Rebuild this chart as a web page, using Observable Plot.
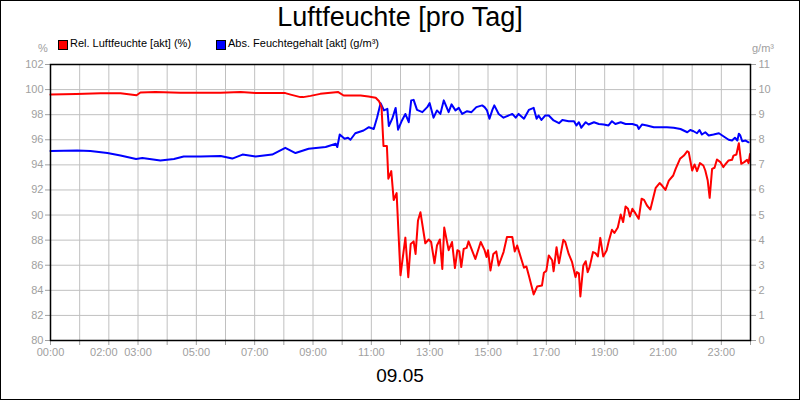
<!DOCTYPE html>
<html><head><meta charset="utf-8">
<script src="https://cdn.jsdelivr.net/npm/d3@7"></script>
<script src="https://cdn.jsdelivr.net/npm/@observablehq/plot@0.6"></script>
<style>
body{margin:0;background:#fff}
#wrap{position:relative;width:800px;height:400px;overflow:hidden;font-family:"Liberation Sans",Arial,sans-serif;background:#fff}
#wrap .abs{position:absolute;white-space:nowrap}
#border{position:absolute;left:0;top:0;width:798px;height:398px;border:1px solid #000;pointer-events:none}
.sq{position:absolute;width:8px;height:8px;border:1px solid #000}
</style></head>
<body>
<div id="wrap">
  <div id="chart" style="position:absolute;left:0;top:0"></div>
  <div class="abs" id="title" style="left:0;width:800px;text-align:center;top:2px;font-size:27px;color:#000">Luftfeuchte [pro Tag]</div>
  <div class="sq" style="left:58px;top:40px;background:#ff0000"></div>
  <div class="abs" style="left:70px;top:37px;font-size:11px;color:#000">Rel. Luftfeuchte [akt] (%)</div>
  <div class="sq" style="left:216px;top:40px;background:#0000ff"></div>
  <div class="abs" style="left:228px;top:37px;font-size:11px;color:#000">Abs. Feuchtegehalt [akt] (g/m³)</div>
  <div class="abs" style="left:38px;top:42px;font-size:11px;color:#a0a0a0">%</div>
  <div class="abs" style="left:752px;top:42px;font-size:11px;color:#a0a0a0">g/m³</div>
  <div class="abs" id="date" style="left:0;width:800px;text-align:center;top:365px;font-size:19px;color:#000">09.05</div>
  <div id="border"></div>
</div>
<script>
// Relative humidity (%) : [minutes since 00:00, value]
const relHumidity = [[0,99.6],[53,99.65],[103,99.7],[144,99.7],[177,99.55],[185,99.77],[216,99.8],[267,99.75],[350,99.75],[391,99.8],[422,99.72],[483,99.72],[494,99.6],[514,99.4],[520,99.4],[535,99.5],[555,99.66],[592,99.8],[603,99.53],[638,99.53],[654,99.45],[669,99.35],[676,99.07],[681,98.6],[685,95.5],[692,95.5],[695,92.9],[701,93.5],[706,91.2],[712,91.75],[720,85.2],[730,88.2],[736,85.05],[741,87.7],[747,87.9],[751,86.9],[756,89.57],[761,90.23],[771,87.75],[778,88.05],[783,87.85],[790,86.16],[795,87.57],[801,88.05],[806,85.7],[810,89.0],[819,87.2],[826,87.85],[832,85.77],[837,87.2],[841,87.1],[845,85.85],[850,87.3],[856,87.38],[860,87.9],[874,86.5],[885,87.85],[893,87.2],[897,86.65],[900,87.2],[905,85.58],[911,86.9],[917,87.1],[922,85.98],[932,87.05],[939,88.25],[950,88.25],[955,87.1],[960,87.57],[974,85.8],[979,85.9],[984,85.18],[994,83.67],[1001,84.3],[1011,84.38],[1015,85.4],[1020,85.55],[1025,86.78],[1032,86.4],[1035,85.52],[1041,87.44],[1046,86.16],[1055,88.02],[1059,87.85],[1066,86.9],[1073,86.24],[1080,85.05],[1083,85.45],[1087,85.36],[1090,83.51],[1096,85.98],[1101,86.32],[1105,85.45],[1109,85.85],[1116,87.05],[1121,86.97],[1126,86.7],[1131,88.18],[1137,86.7],[1144,87.17],[1148,87.85],[1155,88.83],[1160,88.57],[1167,89.0],[1173,90.04],[1178,89.44],[1183,90.68],[1188,90.5],[1192,89.88],[1197,90.5],[1203,90.15],[1210,89.7],[1216,91.3],[1221,91.21],[1227,90.76],[1234,90.44],[1245,92.17],[1253,92.55],[1258,92.35],[1265,92.0],[1272,92.75],[1281,93.15],[1286,93.68],[1295,94.48],[1303,94.74],[1310,95.09],[1313,95.0],[1320,93.55],[1325,94.03],[1330,93.5],[1336,94.14],[1343,93.95],[1347,93.55],[1352,92.75],[1356,91.37],[1361,93.68],[1366,93.77],[1371,94.43],[1378,94.22],[1384,93.82],[1388,94.03],[1395,94.35],[1402,94.4],[1405,94.74],[1411,94.83],[1416,95.73],[1421,94.08],[1427,94.22],[1433,94.4],[1436,94.14],[1439,94.87]];

// Absolute humidity (g/m³) : [minutes since 00:00, value]
const absHumidity = [[0,7.55],[55,7.57],[82,7.55],[117,7.47],[144,7.37],[176,7.23],[189,7.27],[226,7.17],[254,7.23],[274,7.33],[309,7.33],[350,7.35],[374,7.25],[395,7.41],[422,7.33],[456,7.41],[483,7.68],[504,7.47],[531,7.64],[566,7.71],[587,7.84],[590,7.71],[595,8.21],[605,8.04],[612,8.08],[617,8.0],[627,8.26],[644,8.37],[655,8.50],[665,8.43],[672,8.90],[679,9.46],[686,9.17],[693,9.23],[696,8.55],[703,8.84],[710,9.27],[715,8.40],[723,8.77],[730,9.03],[737,8.70],[742,9.57],[747,9.59],[754,9.19],[765,9.10],[775,9.30],[780,9.46],[788,8.88],[795,9.17],[802,9.03],[809,9.57],[819,9.10],[825,9.41],[833,9.17],[840,9.27],[847,9.03],[857,9.14],[866,9.10],[876,9.30],[888,9.37],[893,9.30],[898,9.17],[903,8.84],[909,9.19],[913,9.37],[922,9.03],[932,8.88],[950,9.03],[957,8.88],[963,9.03],[974,8.84],[984,9.19],[994,9.27],[1000,8.84],[1004,8.97],[1010,8.79],[1018,8.97],[1025,8.97],[1035,8.77],[1046,8.66],[1053,8.79],[1066,8.74],[1077,8.74],[1082,8.57],[1087,8.70],[1092,8.48],[1101,8.70],[1107,8.61],[1118,8.70],[1128,8.63],[1138,8.61],[1148,8.57],[1155,8.74],[1162,8.63],[1173,8.70],[1183,8.63],[1197,8.63],[1207,8.57],[1210,8.43],[1217,8.61],[1227,8.57],[1241,8.50],[1268,8.50],[1282,8.48],[1296,8.43],[1310,8.30],[1316,8.39],[1323,8.34],[1330,8.26],[1335,8.39],[1340,8.21],[1347,8.30],[1354,8.17],[1364,8.21],[1375,8.26],[1385,8.13],[1395,8.00],[1402,7.97],[1408,8.08],[1413,7.97],[1416,8.24],[1419,8.17],[1423,7.94],[1430,7.97],[1436,7.90]];

const xTickLabels = ["00:00","02:00","03:00","05:00","07:00","09:00","11:00","13:00","15:00","17:00","19:00","21:00","23:00"];
const leftTicks = [80,82,84,86,88,90,92,94,96,98,100,102];
const rightTickLabels = [0,1,2,3,4,5,6,7,8,9,10,11];
const hourTicks = d3.range(0, 25).map(h => h * 60);

const toMin = s => +s.slice(0,2) * 60 + +s.slice(3,5);
const labelMins = xTickLabels.filter(s => s !== "02:00").map(toMin);
const shiftedMins = xTickLabels.filter(s => s === "02:00").map(toMin);
const fmtTime = m => String(Math.floor(m/60)).padStart(2,"0") + ":" + String(m%60).padStart(2,"0");
const absToY = v => 80 + v * 2;

const grey = "#a0a0a0";
const chart = Plot.plot({
  width: 800, height: 400,
  marginLeft: 50, marginRight: 50, marginTop: 64, marginBottom: 60,
  style: {fontFamily: "Liberation Sans, Arial, sans-serif", fontSize: "11px", background: "transparent", overflow: "visible"},
  x: {domain: [0, 1440]},
  y: {domain: [80, 102]},
  marks: [
    Plot.gridX(hourTicks, {stroke: "#c0c0c0", strokeOpacity: 1}),
    Plot.gridY(leftTicks, {stroke: "#c0c0c0", strokeOpacity: 1}),
    Plot.axisY(leftTicks, {anchor: "left", tickSize: 5, tickPadding: 2, stroke: grey, fill: grey, label: null}),
    Plot.axisY(leftTicks, {anchor: "right", tickSize: 5, tickPadding: 3, stroke: grey, fill: grey, label: null,
      tickFormat: d => String(rightTickLabels[leftTicks.indexOf(d)])}),
    Plot.axisX(hourTicks, {anchor: "bottom", tickSize: 5, stroke: grey, tickFormat: () => "", label: null}),
    Plot.axisX(labelMins, {anchor: "bottom", tickSize: 0, tickPadding: 8, fill: grey, tickFormat: fmtTime, label: null}),
    Plot.axisX(shiftedMins, {anchor: "bottom", tickSize: 0, tickPadding: 8, dx: -5, fill: grey, tickFormat: fmtTime, label: null}),
    Plot.line(absHumidity, {x: d => d[0], y: d => absToY(d[1]), stroke: "#0000ff", strokeWidth: 2}),
    Plot.line(relHumidity, {x: d => d[0], y: d => d[1], stroke: "#ff0000", strokeWidth: 2}),
    Plot.frame({stroke: "#000", strokeWidth: 1.5})
  ]
});
document.getElementById("chart").appendChild(chart);
</script>
</body></html>
